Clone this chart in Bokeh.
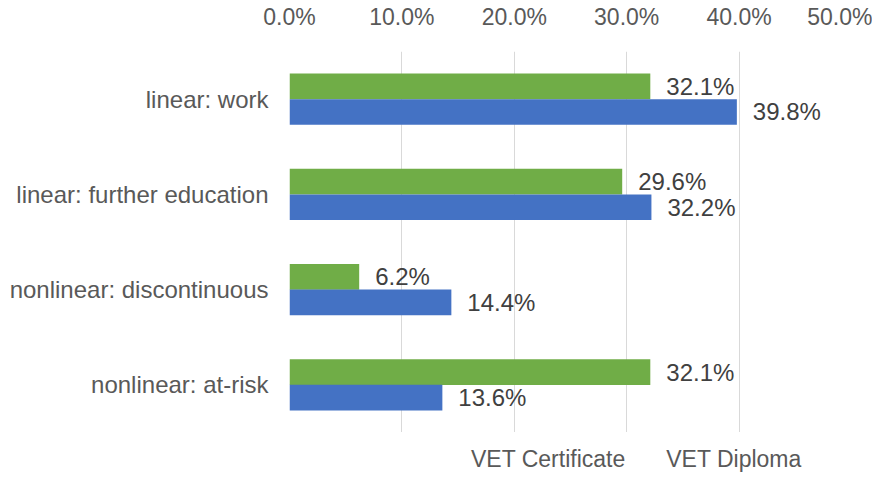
from bokeh.plotting import figure
from bokeh.layouts import column
from bokeh.models import FactorRange, Range1d, PrintfTickFormatter, Legend, LegendItem, ColumnDataSource, FixedTicker
from bokeh.transform import dodge
from bokeh.core.properties import value
from bokeh.embed import file_html
from bokeh.resources import INLINE

categories = ["linear: work", "linear: further education", "nonlinear: discontinuous", "nonlinear: at-risk"]
vet_certificate = [32.1, 29.6, 6.2, 32.1]
vet_diploma = [39.8, 32.2, 14.4, 13.6]
x_ticks = [0, 10, 20, 30, 40, 50]
series_names = ["VET Certificate", "VET Diploma"]

FONT = "Liberation Sans"
GREEN = "#70ad47"
BLUE = "#4472c4"

src = ColumnDataSource(dict(
    cat=categories,
    cert=vet_certificate,
    dipl=vet_diploma,
    cert_lbl=[f"{v:.1f}%" for v in vet_certificate],
    dipl_lbl=[f"{v:.1f}%" for v in vet_diploma],
))

p = figure(width=872, height=424, frame_width=562, frame_height=381,
           y_range=FactorRange(factors=categories[::-1], range_padding=0),
           x_range=Range1d(0, 50),
           x_axis_location="above",
           output_backend="svg", toolbar_location=None,
           min_border_left=289, min_border_right=21,
           min_border_top=43, min_border_bottom=0)
p.outline_line_color = None
p.background_fill_color = "white"
p.border_fill_color = "white"

off = 0.135
bh = 0.27
r1 = p.hbar(y=dodge("cat", off, range=p.y_range), left=0, right="cert", height=bh,
            source=src, fill_color=GREEN, line_color=None)
r2 = p.hbar(y=dodge("cat", -off, range=p.y_range), left=0, right="dipl", height=bh,
            source=src, fill_color=BLUE, line_color=None)

p.text(x="cert", y=dodge("cat", off, range=p.y_range), text="cert_lbl", source=src,
       x_offset=16, text_baseline="middle", text_align="left",
       text_font=value(FONT), text_font_size="24px", text_color="#404040")
p.text(x="dipl", y=dodge("cat", -off, range=p.y_range), text="dipl_lbl", source=src,
       x_offset=16, text_baseline="middle", text_align="left",
       text_font=value(FONT), text_font_size="24px", text_color="#404040")

xa = p.xaxis[0]
xa.ticker = FixedTicker(ticks=x_ticks)
xa.formatter = PrintfTickFormatter(format="%.1f%%")
xa.major_tick_line_color = None
xa.minor_tick_line_color = None
xa.axis_line_color = None
xa.major_label_text_font = FONT
xa.major_label_text_font_size = "23px"
xa.major_label_text_color = "#595959"
xa.major_label_standoff = 16

ya = p.yaxis[0]
ya.major_tick_line_color = None
ya.minor_tick_line_color = None
ya.axis_line_color = None
ya.major_label_text_font = FONT
ya.major_label_text_font_size = "24px"
ya.major_label_text_color = "#595959"
ya.major_label_standoff = 15

p.xgrid.grid_line_color = "#d9d9d9"
p.xgrid.ticker = FixedTicker(ticks=x_ticks)
p.ygrid.grid_line_color = None

# Legend strip below the chart (separate small figure so the legend sits outside the plot frame)
pl = figure(width=872, height=41, frame_width=562, frame_height=41,
            x_range=Range1d(0, 1), y_range=Range1d(0, 1),
            x_axis_location=None, y_axis_location=None,
            output_backend="svg", toolbar_location=None,
            min_border_left=289, min_border_right=21, min_border_top=0, min_border_bottom=0)
pl.outline_line_color = None
pl.xgrid.grid_line_color = None
pl.ygrid.grid_line_color = None
pl.background_fill_color = "white"
pl.border_fill_color = "white"
empty = ColumnDataSource(dict(y=[], right=[]))
g1 = pl.hbar(y="y", left=0, right="right", height=0.5, source=empty, fill_color=GREEN, line_color=None)
g2 = pl.hbar(y="y", left=0, right="right", height=0.5, source=empty, fill_color=BLUE, line_color=None)

legend = Legend(items=[LegendItem(label=series_names[0], renderers=[g1]),
                       LegendItem(label=series_names[1], renderers=[g2])],
                orientation="horizontal", location=(166, 0),
                glyph_width=13, glyph_height=13, label_standoff=3, spacing=25,
                padding=0, margin=0, border_line_color=None, background_fill_alpha=0,
                label_text_font=FONT, label_text_font_size="23px", label_text_color="#595959")
pl.add_layout(legend, "center")

layout = column(p, pl, spacing=0)
open("out.html", "w").write(file_html(layout, INLINE))
